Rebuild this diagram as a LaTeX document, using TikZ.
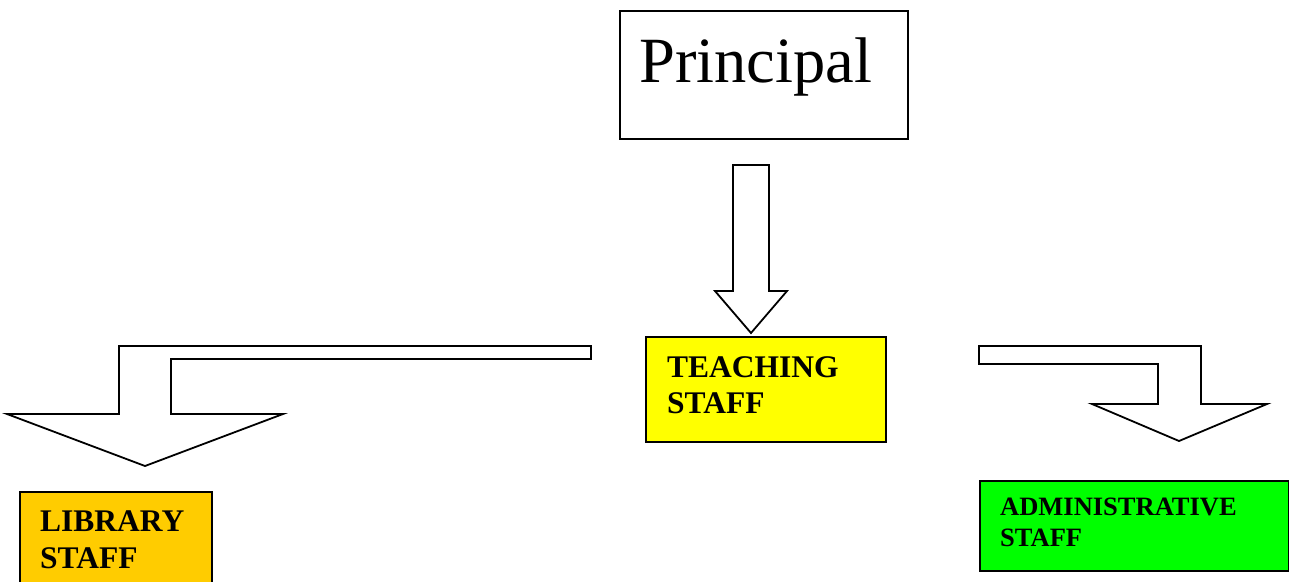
\documentclass[tikz,border=0pt]{standalone}
\usepackage{fontspec}
\setmainfont{Liberation Serif}
\definecolor{tyellow}{HTML}{FFFF00}
\definecolor{torange}{HTML}{FFCC00}
\definecolor{tgreen}{HTML}{00FF00}
\begin{document}
\begin{tikzpicture}[x=1pt,y=-1pt,
  box/.style={draw=black,line width=1.8pt,inner sep=0pt,anchor=north west},
  lbl/.style={anchor=base west,inner sep=0pt,font=\bfseries\fontsize{31.5}{36}\selectfont},
  slbl/.style={anchor=base west,inner sep=0pt,font=\bfseries\fontsize{26.5}{31}\selectfont},
  blockarrow/.style={draw=black,fill=white,line width=1.8pt,line join=miter}]
\useasboundingbox (0,0) rectangle (1289,581);
\clip (0,0) rectangle (1289,581);
% boxes
\node[box,minimum width=288pt,minimum height=128pt] (principal) at (619,10) {};
\node[anchor=base west,inner sep=0pt,font=\fontsize{64.5}{64.5}\selectfont] (ptext) at (639,82) {Principal};
\node[box,fill=tyellow,minimum width=240pt,minimum height=105pt] (teaching) at (645,336) {};
\node[lbl] (t1) at (667,377) {TEACHING};
\node[lbl] (t2) at (667,413) {STAFF};
\node[box,fill=torange,minimum width=192pt,minimum height=120pt] (library) at (19,491) {};
\node[lbl] (l1) at (40,531) {LIBRARY};
\node[lbl] (l2) at (40,568) {STAFF};
\node[box,fill=tgreen,minimum width=309pt,minimum height=90pt] (admin) at (979,480) {};
\node[slbl] (a1) at (1000,515) {ADMINISTRATIVE};
\node[slbl] (a2) at (1000,546) {STAFF};
% block arrows
\draw[blockarrow] (733,165) -- (769,165) -- (769,291) -- (787,291) -- (751,333)
  -- (715,291) -- (733,291) -- cycle;
\draw[blockarrow] (591,346) -- (591,359) -- (171,359) -- (171,414) -- (283,414)
  -- (145,466) -- (7,414) -- (119,414) -- (119,346) -- cycle;
\draw[blockarrow] (979,346) -- (1201,346) -- (1201,404) -- (1267,404) -- (1179,441)
  -- (1092,404) -- (1158,404) -- (1158,364) -- (979,364) -- cycle;
\end{tikzpicture}
\end{document}
